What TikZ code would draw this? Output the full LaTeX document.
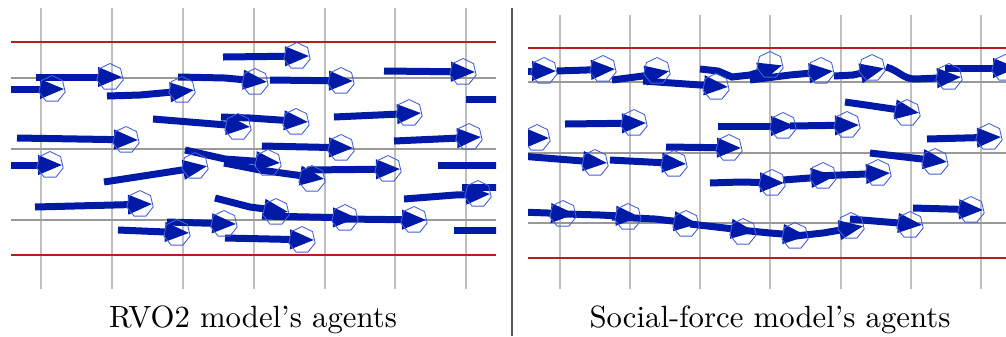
\documentclass[tikz,border=0pt]{standalone}
\usetikzlibrary{arrows.meta, shapes.geometric}
\definecolor{agentblue}{RGB}{0,26,168}
\definecolor{ringblue}{RGB}{70,95,215}
\definecolor{wallred}{RGB}{180,30,30}
\pgfdeclarelayer{front}
\pgfsetlayers{main, front}

\begin{document}
\begin{tikzpicture}[x = 0.02cm, y = -0.02cm,
  trail/.style = {draw = agentblue, line width = 0.14cm, -{Triangle[length = 0.5cm, width = 0.36cm]}},
  stub/.style = {draw = agentblue, line width = 0.14cm},
  agent/.style = {regular polygon, regular polygon sides = 7, minimum size = 0.54cm, inner sep = 0pt, draw = ringblue, line width = 0.5pt},
  tip/.style = {xshift = 0.26cm},
  wall/.style = {draw = wallred, line width = 1.1pt},
  lane/.style = {draw = gray!80, line width = 0.6pt},
  gridline/.style = {draw = gray!50, line width = 0.9pt},
  captiontext/.style = {scale = 1.75, anchor = base, inner sep = 0pt}]

  \useasboundingbox (0, 0) rectangle (1006, 336);

  \foreach \x in {41, 112, 183, 254, 325, 395, 466}
    \draw [gridline] (\x, 8) -- (\x, 289);
  \foreach \y in {78, 149, 220}
    \draw [lane] (11, \y) -- (496, \y);
  \draw [wall] (11, 42) -- (496, 42);
  \draw [wall] (11, 255) -- (496, 255);

  \begin{pgfonlayer}{front}
  \begin{scope}
  \clip (11, 0) rectangle (496, 300);
  \node [agent] (l1) at (52, 89) {};
  \node [agent] (l2) at (110, 77) {};
  \node [agent] (l3) at (182, 90) {};
  \node [agent] (l4) at (255, 82) {};
  \node [agent] (l5) at (341, 81) {};
  \node [agent] (l6) at (297, 56) {};
  \node [agent] (l7) at (463, 72) {};
  \node [agent] (l9) at (126, 140) {};
  \node [agent] (l10) at (238, 127) {};
  \node [agent] (l11) at (296, 122) {};
  \node [agent] (l12) at (409, 113) {};
  \node [agent] (l13) at (469, 137) {};
  \node [agent] (l14) at (341, 148) {};
  \node [agent] (l16) at (50, 165) {};
  \node [agent] (l17) at (195, 166) {};
  \node [agent] (l18) at (140, 204) {};
  \node [agent] (l19) at (177, 233) {};
  \node [agent] (l20) at (224, 224) {};
  \node [agent] (l21) at (276, 212) {};
  \node [agent] (l23) at (302, 240) {};
  \node [agent] (l24) at (478, 194) {};
  \node [agent] (l26) at (268, 163) {};
  \node [agent] (l27) at (312, 179) {};
  \node [agent] (l28) at (388, 169) {};
  \node [agent] (l29) at (345, 218) {};
  \node [agent] (l30) at (414, 220) {};
  \end{scope}
  \end{pgfonlayer}

  \begin{scope}
  \clip (11, 0) rectangle (496, 300);
  \draw [trail] (11, 89) -- ([tip] l1.center);
  \draw [trail] (36, 77) -- ([tip] l2.center);
  \draw [trail] (107, 96) -- (140, 95) -- ([tip] l3.center);
  \draw [trail] (178, 77) -- (225, 78) -- ([tip] l4.center);
  \draw [trail] (270, 80) -- ([tip] l5.center);
  \draw [trail] (223, 57) -- ([tip] l6.center);
  \draw [trail] (384, 71) -- ([tip] l7.center);
  \draw [trail] (17, 138) -- ([tip] l9.center);
  \draw [trail] (153, 119) -- ([tip] l10.center);
  \draw [trail] (221, 117) -- (250, 118) -- ([tip] l11.center);
  \draw [trail] (334, 117) -- ([tip] l12.center);
  \draw [trail] (394, 141) -- ([tip] l13.center);
  \draw [trail] (262, 146) -- ([tip] l14.center);
  \draw [trail] (11, 165) -- ([tip] l16.center);
  \draw [trail] (104, 182) -- ([tip] l17.center);
  \draw [trail] (35, 207) -- ([tip] l18.center);
  \draw [trail] (118, 230) -- ([tip] l19.center);
  \draw [trail] (167, 222) -- ([tip] l20.center);
  \draw [trail] (215, 198) -- (250, 207) -- ([tip] l21.center);
  \draw [trail] (225, 238) -- ([tip] l23.center);
  \draw [trail] (404, 199) -- (455, 195) -- ([tip] l24.center);
  \draw [trail] (185, 150) -- (225, 159) -- ([tip] l26.center);
  \draw [trail] (224, 163) -- (260, 170) -- ([tip] l27.center);
  \draw [trail] (307, 170) -- ([tip] l28.center);
  \draw [trail] (262, 216) -- ([tip] l29.center);
  \draw [trail] (345, 219) -- ([tip] l30.center);

  \draw [stub] (466, 99) -- (500, 99);
  \draw [stub] (438, 165) -- (500, 165);
  \draw [stub] (462, 187) -- (500, 187);
  \draw [stub] (454, 230) -- (500, 230);
  \end{scope}

  \draw [draw = gray!70!black, line width = 0.6pt] (512, 8) -- (512, 336);

  \foreach \x in {560, 630, 700, 770, 841, 911, 981}
    \draw [gridline] (\x, 15) -- (\x, 289);
  \foreach \y in {82, 153, 223}
    \draw [lane] (528, \y) -- (1006, \y);
  \draw [wall] (528, 48) -- (1006, 48);
  \draw [wall] (528, 258) -- (1006, 258);

  \begin{pgfonlayer}{front}
  \begin{scope}
  \clip (528, 0) rectangle (1006, 300);
  \node [agent] (r1) at (544, 71) {};
  \node [agent] (r2) at (603, 69) {};
  \node [agent] (r3) at (657, 71) {};
  \node [agent] (r4) at (716, 87) {};
  \node [agent] (r5) at (770, 65) {};
  \node [agent] (r6) at (821, 71) {};
  \node [agent] (r7) at (872, 68) {};
  \node [agent] (r8) at (949, 77) {};
  \node [agent] (r9) at (1005, 68) {};
  \node [agent] (r10) at (634, 123) {};
  \node [agent] (r11) at (537, 138) {};
  \node [agent] (r12) at (783, 126) {};
  \node [agent] (r13) at (847, 125) {};
  \node [agent] (r14) at (907, 113) {};
  \node [agent] (r15) at (989, 137) {};
  \node [agent] (r16) at (729, 148) {};
  \node [agent] (r17) at (595, 163) {};
  \node [agent] (r18) at (674, 164) {};
  \node [agent] (r19) at (772, 183) {};
  \node [agent] (r20) at (823, 176) {};
  \node [agent] (r21) at (878, 173) {};
  \node [agent] (r22) at (935, 162) {};
  \node [agent] (r23) at (971, 210) {};
  \node [agent] (r24) at (563, 214) {};
  \node [agent] (r25) at (628, 217) {};
  \node [agent] (r26) at (686, 224) {};
  \node [agent] (r27) at (743, 232) {};
  \node [agent] (r28) at (795, 236) {};
  \node [agent] (r29) at (851, 226) {};
  \node [agent] (r30) at (910, 225) {};
  \end{scope}
  \end{pgfonlayer}

  \begin{scope}
  \clip (528, 0) rectangle (1006, 300);
  \draw [trail] (520, 71) -- ([tip] r1.center);
  \draw [trail] (557, 71) -- ([tip] r2.center);
  \draw [trail] (612, 80) -- (643, 76) -- ([tip] r3.center);
  \draw [trail] (643, 81) -- ([tip] r4.center);
  \draw [trail] (700, 69) -- (718, 71) -- (732, 77) -- (750, 75) -- ([tip] r5.center);
  \draw [trail] (750, 80) -- (790, 75) -- ([tip] r6.center);
  \draw [trail] (834, 76) -- (853, 75) -- ([tip] r7.center);
  \draw [trail] (886, 67) .. controls (898, 70) and (903, 79) .. (915, 79) -- ([tip] r8.center);
  \draw [trail] (945, 68) -- ([tip] r9.center);
  \draw [trail] (565, 124) -- ([tip] r10.center);
  \draw [trail] (515, 138) -- ([tip] r11.center);
  \draw [trail] (718, 126) -- ([tip] r12.center);
  \draw [trail] (790, 126) -- ([tip] r13.center);
  \draw [trail] (845, 102) -- (866, 105) -- ([tip] r14.center);
  \draw [trail] (927, 139) -- ([tip] r15.center);
  \draw [trail] (666, 147) -- ([tip] r16.center);
  \draw [trail] (520, 156) -- ([tip] r17.center);
  \draw [trail] (610, 160) -- ([tip] r18.center);
  \draw [trail] (710, 183) -- (740, 182) -- ([tip] r19.center);
  \draw [trail] (783, 180) -- ([tip] r20.center);
  \draw [trail] (815, 176) -- ([tip] r21.center);
  \draw [trail] (870, 153) -- ([tip] r22.center);
  \draw [trail] (913, 208) -- ([tip] r23.center);
  \draw [trail] (520, 212) -- ([tip] r24.center);
  \draw [trail] (565, 214) -- (600, 215) -- ([tip] r25.center);
  \draw [trail] (612, 217) -- (655, 219) -- ([tip] r26.center);
  \draw [trail] (690, 224) -- (725, 228) -- ([tip] r27.center);
  \draw [trail] (740, 230) -- (770, 233) -- ([tip] r28.center);
  \draw [trail] (795, 236) -- (823, 233) -- ([tip] r29.center);
  \draw [trail] (850, 219) -- ([tip] r30.center);
  \end{scope}

  \node [captiontext] (leftcap) at (253, 327) {RVO2 model's agents};
  \node [captiontext] (rightcap) at (770, 327) {Social-force model's agents};

\end{tikzpicture}
\end{document}
